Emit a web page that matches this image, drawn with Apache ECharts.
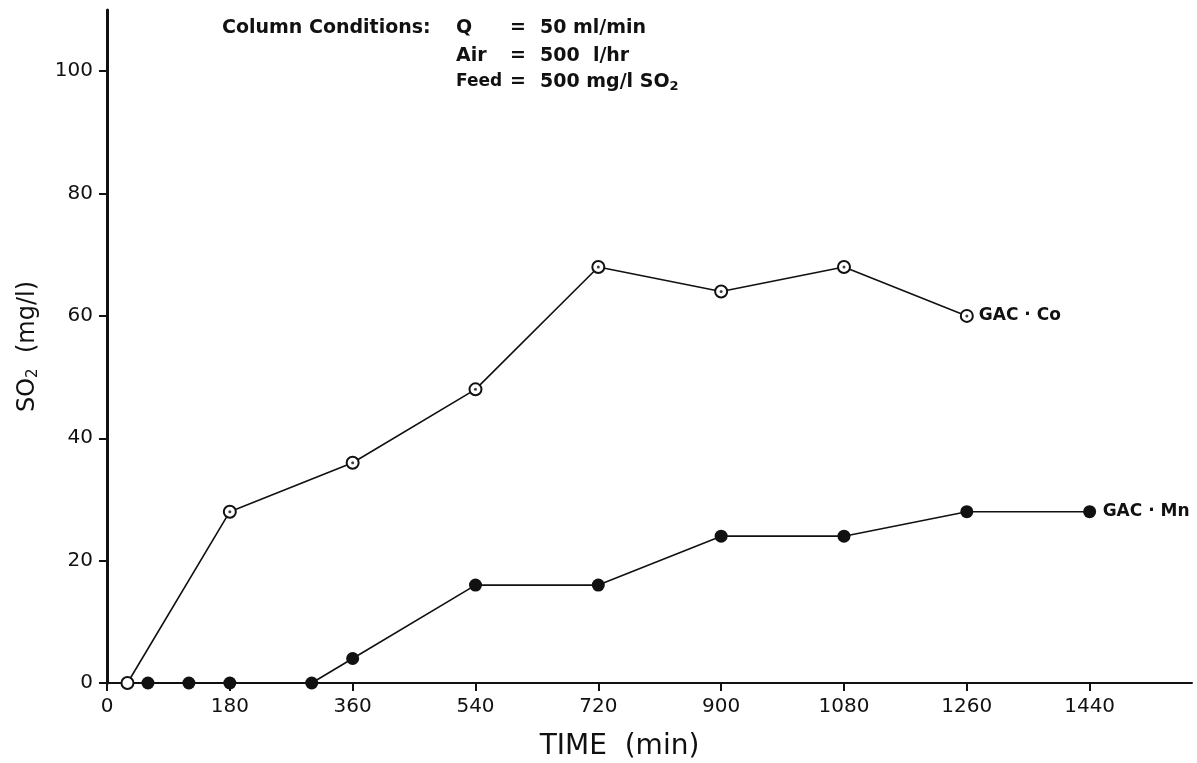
<!DOCTYPE html>
<html lang="en">
<head>
<meta charset="utf-8">
<title>SO2 breakthrough - GAC columns</title>
<script src="https://cdn.jsdelivr.net/npm/echarts@6/dist/echarts.min.js"></script>
<style>
  html, body { margin: 0; padding: 0; background: #fff; }
  #main { width: 1197px; height: 763px; }
</style>
</head>
<body>
<div id="main"></div>
<script>
// values
var coTime = [30, 180, 360, 540, 720, 900, 1080, 1260];
var coSO2  = [0, 28, 36, 48, 68, 64, 68, 60];
var mnTime = [60, 120, 180, 300, 360, 540, 720, 900, 1080, 1260, 1440];
var mnSO2  = [0, 0, 0, 0, 4, 16, 16, 24, 24, 28, 28];
var xTicks = [0, 180, 360, 540, 720, 900, 1080, 1260, 1440];
var yTicks = [0, 20, 40, 60, 80, 100];

function pairs(xs, ys) {
    return xs.map(function (x, i) { return [x, ys[i]]; });
}

var FONT = 'DejaVu Sans';
var INK = '#111';
var NOTE = 'bold 19px DejaVu Sans';

// helper for the "Column Conditions" block
function note(x, y, text, font) {
    return { type: 'text', x: x, y: y, style: { text: text, font: font || NOTE, fill: INK, verticalAlign: 'middle' } };
}

var chart = echarts.init(document.getElementById('main'));
chart.setOption({
    animation: false,
    backgroundColor: '#fff',
    grid: { left: 107, right: 5, top: 10, bottom: 80, containLabel: false, outerBoundsMode: 'none' },
    xAxis: {
        type: 'value',
        min: 0,
        max: 1590,
        name: 'TIME  (min)',
        nameLocation: 'middle',
        nameGap: 50,
        nameTextStyle: { fontFamily: FONT, fontSize: 28, color: INK, padding: [0, 60, 0, 0] },
        splitLine: { show: false },
        axisLine: { lineStyle: { color: INK, width: 2 } },
        axisTick: { customValues: xTicks, length: 8, lineStyle: { color: INK, width: 2 } },
        axisLabel: {
            customValues: xTicks, margin: 14, fontFamily: FONT, fontSize: 20, color: INK,
            formatter: function (v) { return String(v); }
        }
    },
    yAxis: {
        type: 'value',
        min: 0,
        max: 110,
        name: 'SO{s|2}  (mg/l)',
        nameLocation: 'middle',
        nameGap: 66,
        nameTextStyle: {
            fontFamily: FONT, fontSize: 24, color: INK,
            rich: { s: { fontFamily: FONT, fontSize: 15, color: INK, padding: [12, 0, 0, 0] } }
        },
        splitLine: { show: false },
        axisLine: { show: true, lineStyle: { color: INK, width: 3 } },
        axisTick: { customValues: yTicks, length: 8, lineStyle: { color: INK, width: 2 } },
        axisLabel: { customValues: yTicks, margin: 14, fontFamily: FONT, fontSize: 20, color: INK }
    },
    series: [
        {
            name: 'GAC · Co',
            type: 'line',
            data: pairs(coTime, coSO2),
            symbol: 'emptyCircle',
            symbolSize: 12,
            lineStyle: { color: INK, width: 1.6 },
            itemStyle: { color: INK, borderColor: INK, borderWidth: 2 },
            endLabel: {
                show: true, formatter: 'GAC · Co', distance: 12,
                fontFamily: FONT, fontSize: 17, fontWeight: 'bold', color: INK
            }
        },
        {
            // centre dots of the open markers
            name: 'co-dot',
            type: 'scatter',
            data: pairs(coTime.slice(1), coSO2.slice(1)),
            symbol: 'circle',
            symbolSize: 3,
            itemStyle: { color: INK },
            z: 5
        },
        {
            name: 'GAC · Mn',
            type: 'line',
            data: pairs(mnTime, mnSO2),
            symbol: 'circle',
            symbolSize: 13,
            lineStyle: { color: INK, width: 1.6 },
            itemStyle: { color: INK },
            endLabel: {
                show: true, formatter: 'GAC · Mn', distance: 13,
                fontFamily: FONT, fontSize: 17, fontWeight: 'bold', color: INK
            }
        }
    ],
    graphic: [
        note(222, 28, 'Column Conditions:'),
        note(456, 28, 'Q'),
        note(510, 28, '='),
        note(540, 28, '50 ml/min'),
        note(456, 56, 'Air'),
        note(510, 56, '='),
        note(540, 56, '500  l/hr'),
        note(456, 82, 'Feed', 'bold 17px DejaVu Sans'),
        note(510, 82, '='),
        {
            type: 'text', x: 540, y: 82,
            style: {
                text: '500 mg/l SO{s|2}', font: NOTE, fill: INK, verticalAlign: 'middle',
                rich: { s: { fontFamily: FONT, fontWeight: 'bold', fontSize: 13, fill: INK, padding: [10, 0, 0, 0] } }
            }
        }
    ]
});
</script>
</body>
</html>
